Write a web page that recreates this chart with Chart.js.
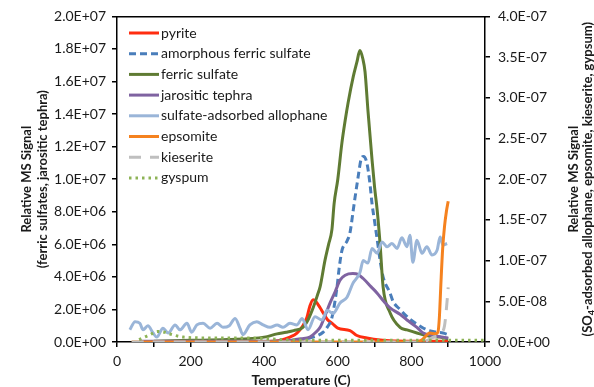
<!DOCTYPE html>
<html>
<head>
<meta charset="UTF-8">
<title>MS signal</title>
<script src="https://cdn.jsdelivr.net/npm/chart.js"></script>
<style>
  body { margin: 0; background: #fff; }
  canvas { display: block; }
</style>
</head>
<body>
<canvas id="msChart" width="594" height="387"></canvas>
<script>
// series names (legend order)
const names = ['pyrite', 'amorphous ferric sulfate', 'ferric sulfate', 'jarositic tephra',
  'sulfate-adsorbed allophane', 'epsomite', 'kieserite', 'gyspum'];

// left axis series (counts)
const pyriteT = [400, 443, 470, 489, 505, 516, 524, 533, 540, 552, 560, 571, 587, 600, 633, 652, 679, 715, 760, 800, 900];
const pyriteV = [0.02e6, 0.1e6, 0.3e6, 0.55e6, 1.0e6, 1.5e6, 2.2e6, 2.6e6, 2.5e6, 2.1e6, 1.8e6, 1.4e6, 1.1e6, 0.85e6, 0.7e6, 0.4e6, 0.25e6, 0.12e6, 0.06e6, 0.04e6, 0.04e6];

const amorphT = [400, 480, 533, 560, 571, 584, 598, 603, 611, 625, 633, 642, 647, 655, 663, 670, 679, 687, 693, 700, 707, 715, 723, 742, 750, 769, 796, 815, 842, 870, 886, 900];
const amorphV = [0.02e6, 0.1e6, 0.3e6, 0.6e6, 0.9e6, 1.5e6, 3.4e6, 4.4e6, 5.6e6, 6.2e6, 6.7e6, 8.1e6, 8.9e6, 10.1e6, 11.2e6, 11.4e6, 11.0e6, 9.8e6, 8.5e6, 7.4e6, 6.3e6, 5.0e6, 4.0e6, 3.0e6, 2.5e6, 2.0e6, 1.4e6, 1.1e6, 0.75e6, 0.6e6, 0.55e6, 0.45e6];

const ferricT = [100, 200, 300, 400, 435, 460, 480, 505, 520, 533, 545, 552, 565, 575, 584, 590, 600, 611, 620, 628, 642, 652, 660, 668, 674, 682, 693, 700, 707, 715, 723, 742, 769, 788, 815, 850, 878, 900];
const ferricV = [0.05e6, 0.1e6, 0.15e6, 0.3e6, 0.5e6, 0.6e6, 0.7e6, 0.9e6, 1.4e6, 2.1e6, 2.9e6, 3.4e6, 5.0e6, 6.0e6, 6.9e6, 8.5e6, 10.0e6, 12.2e6, 13.6e6, 14.7e6, 16.3e6, 17.2e6, 17.9e6, 17.4e6, 16.6e6, 14.2e6, 11.2e6, 9.5e6, 8.1e6, 6.0e6, 3.4e6, 1.8e6, 0.9e6, 0.74e6, 0.55e6, 0.35e6, 0.3e6, 0.2e6];

const jarosT = [60, 200, 300, 450, 470, 500, 524, 540, 552, 565, 579, 593, 606, 620, 641, 655, 669, 690, 707, 725, 742, 769, 788, 815, 832, 859, 900];
const jarosV = [0.05e6, 0.05e6, 0.05e6, 0.05e6, 0.1e6, 0.2e6, 0.3e6, 0.6e6, 0.9e6, 1.6e6, 2.4e6, 3.1e6, 3.8e6, 4.1e6, 4.2e6, 4.15e6, 3.9e6, 3.4e6, 3.0e6, 2.5e6, 2.1e6, 1.7e6, 1.35e6, 0.9e6, 0.55e6, 0.4e6, 0.25e6];

// right axis series
const allophT = [35, 49, 62, 71, 84, 98, 108, 125, 139, 158, 171, 190, 203, 217, 234, 253, 272, 288, 305, 321, 334, 342, 361, 380, 397, 416, 435, 451, 470, 489, 503, 519, 538, 557, 571, 587, 606, 625, 641, 660, 669, 682, 693, 707, 720, 734, 747, 761, 774, 788, 796, 804, 815, 829, 842, 856, 870, 878, 886, 897];
const allophV = [1.5e-8, 2.5e-8, 2.3e-8, 1.5e-8, 2.0e-8, 1.1e-8, 0.6e-8, 1.7e-8, 1.1e-8, 2.1e-8, 1.5e-8, 2.3e-8, 1.2e-8, 2.1e-8, 2.3e-8, 1.7e-8, 2.3e-8, 1.8e-8, 2.0e-8, 2.9e-8, 1.7e-8, 0.9e-8, 2.1e-8, 2.5e-8, 2.1e-8, 1.8e-8, 2.1e-8, 1.8e-8, 2.3e-8, 2.1e-8, 2.9e-8, 1.5e-8, 3.1e-8, 2.7e-8, 3.9e-8, 3.5e-8, 4.8e-8, 5.5e-8, 7.2e-8, 8.5e-8, 10.0e-8, 9.7e-8, 11.5e-8, 10.9e-8, 12.3e-8, 11.7e-8, 12.1e-8, 11.5e-8, 12.8e-8, 11.7e-8, 13.1e-8, 9.8e-8, 12.5e-8, 10.9e-8, 11.7e-8, 10.7e-8, 11.3e-8, 12.9e-8, 11.9e-8, 12.1e-8];

const epsomT = [40, 500, 815, 830, 850, 865, 872, 876, 880, 885, 890, 895, 900];
const epsomV = [0, 0, 0, 0.3e-8, 1.1e-8, 1.0e-8, 1.2e-8, 3e-8, 7e-8, 11.5e-8, 14.2e-8, 16e-8, 17.3e-8];

const kiesT = [40, 500, 830, 860, 880, 890, 895, 900];
const kiesV = [0, 0, 0, 0.6e-8, 1.0e-8, 2e-8, 4e-8, 6.7e-8];

const gypsT = [60, 90, 110, 130, 150, 180, 250, 350, 450, 550, 700, 850, 1000];
const gypsV = [0.3e-8, 0.9e-8, 1.3e-8, 1.2e-8, 0.9e-8, 0.6e-8, 0.5e-8, 0.5e-8, 0.3e-8, 0.2e-8, 0.2e-8, 0.2e-8, 0.2e-8];

const xTicksLabelled = [0, 200, 400, 600, 800, 1000];

function pts(t, v) { return t.map((x, i) => ({ x: x, y: v[i] })); }

function sci(v) {
  if (Math.abs(v) < 1e-15) return '0.0E+00';
  let e = Math.floor(Math.log10(Math.abs(v)) + 1e-9);
  let m = v / Math.pow(10, e);
  if (Math.round(m * 10) / 10 >= 10) { m /= 10; e++; }
  return m.toFixed(1) + 'E' + (e < 0 ? '-' : '+') + String(Math.abs(e)).padStart(2, '0');
}

const FONT = 'Lato';

const series = [
  { t: pyriteT, v: pyriteV, color: '#ff2d10', dash: [], axis: 'y' },
  { t: amorphT, v: amorphV, color: '#4a7ebb', dash: [7, 4], axis: 'y' },
  { t: ferricT, v: ferricV, color: '#5f7b33', dash: [], axis: 'y' },
  { t: jarosT, v: jarosV, color: '#7f63a1', dash: [], axis: 'y' },
  { t: allophT, v: allophV, color: '#9ab5d8', dash: [], axis: 'y2' },
  { t: epsomT, v: epsomV, color: '#f5821f', dash: [], axis: 'y2' },
  { t: kiesT, v: kiesV, color: '#bfbfbf', dash: [12, 9], axis: 'y2' },
  { t: gypsT, v: gypsV, color: '#8db356', dash: [2.5, 4], axis: 'y2' }
];

const datasets = series.map((s, i) => ({
  label: names[i],
  data: pts(s.t, s.v),
  yAxisID: s.axis,
  borderColor: s.color,
  backgroundColor: s.color,
  borderWidth: 3,
  borderDash: s.dash,
  pointRadius: 0,
  cubicInterpolationMode: 'monotone',
  fill: false,
  order: series.length - i
}));

// legend drawn inside the plot + right axis title reading bottom-to-top
const extras = {
  id: 'extras',
  afterDraw(chart) {
    const ctx = chart.ctx;
    ctx.save();
    ctx.font = '14px ' + FONT;
    ctx.textBaseline = 'middle';
    datasets.forEach((d, i) => {
      const y = 33 + i * 20.7;
      ctx.strokeStyle = d.borderColor;
      ctx.lineWidth = 3;
      ctx.setLineDash(d.borderDash);
      ctx.beginPath();
      ctx.moveTo(129, y);
      ctx.lineTo(159, y);
      ctx.stroke();
      ctx.fillStyle = '#1a1a1a';
      ctx.fillText(d.label, 161, y);
    });
    ctx.setLineDash([]);

    const ca = chart.chartArea;
    const cy = (ca.top + ca.bottom) / 2;
    ctx.translate(574, cy);
    ctx.rotate(-Math.PI / 2);
    ctx.fillStyle = '#1a1a1a';
    ctx.textAlign = 'center';
    ctx.font = 'bold 13px ' + FONT;
    ctx.fillText('Relative MS Signal', 0, 0);
    // second line with subscript 4
    const a = '(SO', b = '4', c = '-adsorbed allophane, epsomite, kieserite, gypsum)';
    ctx.font = 'bold 13px ' + FONT;
    const wa = ctx.measureText(a).width, wc = ctx.measureText(c).width;
    ctx.font = 'bold 9px ' + FONT;
    const wb = ctx.measureText(b).width;
    let x = -(wa + wb + wc) / 2;
    ctx.textAlign = 'left';
    ctx.font = 'bold 13px ' + FONT;
    ctx.fillText(a, x, 14);
    ctx.font = 'bold 9px ' + FONT;
    ctx.fillText(b, x + wa, 18);
    ctx.font = 'bold 13px ' + FONT;
    ctx.fillText(c, x + wa + wb, 14);
    ctx.restore();
  }
};

const tickFont = { family: FONT, size: 14 };

new Chart(document.getElementById('msChart'), {
  type: 'line',
  data: { datasets: datasets },
  options: {
    responsive: false,
    animation: false,
    devicePixelRatio: 1,
    layout: { padding: 0 },
    plugins: { legend: { display: false }, tooltip: { enabled: false } },
    scales: {
      x: {
        type: 'linear', position: 'bottom', min: 0, max: 1000,
        grid: { display: true, drawOnChartArea: false, drawTicks: true, tickLength: 5, color: '#000', lineWidth: 1.5 },
        border: { display: true, color: '#000', width: 1.5 },
        ticks: {
          stepSize: 100, autoSkip: false, maxRotation: 0, color: '#1a1a1a', font: tickFont, padding: 6,
          callback: v => xTicksLabelled.includes(v) ? String(v) : ''
        },
        title: { display: true, text: 'Temperature (C)', color: '#1a1a1a', font: { family: FONT, size: 14, weight: 'bold' }, padding: { top: 0, bottom: -2 } },
        afterFit: s => { s.height = 45; }
      },
      xTop: {
        type: 'linear', position: 'top', min: 0, max: 1000,
        grid: { display: false },
        border: { display: true, color: '#000', width: 1.5 },
        ticks: { display: false },
        afterFit: s => { s.height = 16; }
      },
      y: {
        type: 'linear', position: 'left', min: 0, max: 2e7,
        grid: { display: true, drawOnChartArea: false, drawTicks: true, tickLength: 5, color: '#000', lineWidth: 1.5 },
        border: { display: true, color: '#000', width: 1.5 },
        ticks: { stepSize: 2e6, color: '#1a1a1a', font: tickFont, padding: 6, callback: v => sci(v) },
        title: {
          display: true, text: ['Relative MS Signal', '(ferric sulfates, jarositic tephra)'],
          color: '#1a1a1a', font: { family: FONT, size: 13, weight: 'bold' }, padding: { top: 19, bottom: 0 }
        },
        afterFit: s => { s.width = 117; }
      },
      y2: {
        type: 'linear', position: 'right', min: 0, max: 4e-7,
        grid: { display: true, drawOnChartArea: false, drawTicks: true, tickLength: 5, color: '#000', lineWidth: 1.5 },
        border: { display: true, color: '#000', width: 1.5 },
        ticks: { stepSize: 5e-8, color: '#1a1a1a', font: tickFont, padding: 8, callback: v => sci(v) },
        afterFit: s => { s.width = 109; }
      }
    }
  },
  plugins: [extras]
});
</script>
</body>
</html>
